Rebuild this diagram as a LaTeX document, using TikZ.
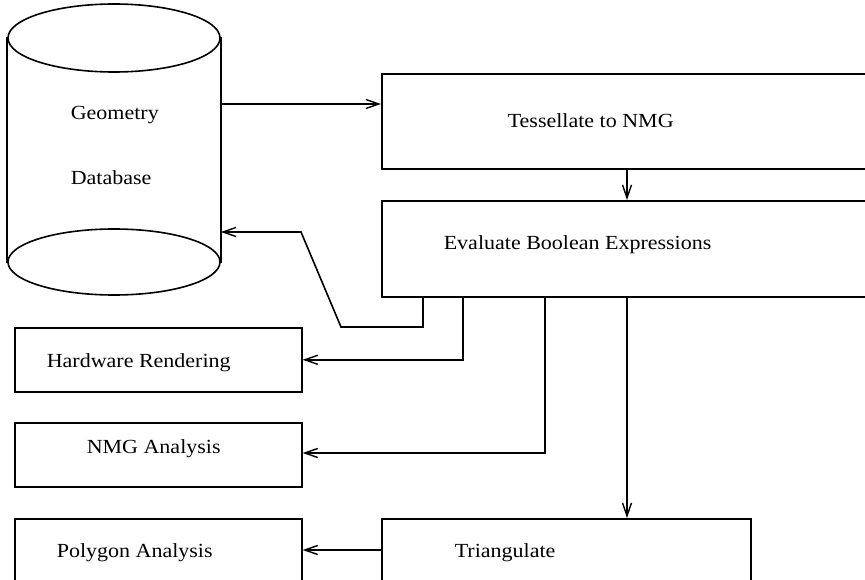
\documentclass[tikz,border=0pt]{standalone}
\usepackage{fontspec}
\setmainfont{Liberation Serif}[FakeStretch=1.1]
\usetikzlibrary{arrows.meta,positioning}

\begin{document}
\begin{tikzpicture}[x=1pt,y=-1pt,
  line width=1.6pt,
  box/.style={draw,rectangle,inner sep=0pt,minimum width=#1},
  lbl/.style={anchor=base west,inner sep=0pt,font=\fontsize{20}{24}\selectfont},
  flow/.style={-{Straight Barb[length=13pt,width=9pt,line width=1.4pt]},line width=1.6pt},
]
\useasboundingbox (0,0) rectangle (865,580);
\clip (0,0) rectangle (865,580);

% geometry database cylinder (two full ellipses joined by its sides)
\node[inner sep=0pt,minimum width=212pt,minimum height=224pt] (db) at (114,150) {};
\draw (114,38) ellipse [x radius=106, y radius=34];
\draw (114,262) ellipse [x radius=106, y radius=33];
\draw (db.north west) -- (db.south west);
\draw (db.north east) -- (db.south east);
\node[lbl] (dbA) at (70,120) {Geometry};
\node[lbl] (dbB) at (70,185) {Database};

% processing boxes (right-hand ones run past the page edge)
\node[box=519pt,minimum height=95pt,anchor=north west] (tess) at (381,73) {};
\node[box=519pt,minimum height=96pt,anchor=north west] (eval) at (381,200) {};
\node[box=287pt,minimum height=64pt,anchor=north west] (hw) at (14,327) {};
\node[box=287pt,minimum height=64pt,anchor=north west] (nmga) at (14,422) {};
\node[box=287pt,minimum height=82pt,anchor=north west] (poly) at (14,518) {};
\node[box=369pt,minimum height=82pt,anchor=north west] (tri) at (381,518) {};

\node[lbl] (tessT) at (507,128) {Tessellate to NMG};
\node[lbl] (evalT) at (443,250) {Evaluate Boolean Expressions};
\node[lbl] (hwT) at (46,367) {Hardware Rendering};
\node[lbl] (nmgaT) at (86,453) {NMG Analysis};
\node[lbl] (polyT) at (56,557) {Polygon Analysis};
\node[lbl] (triT) at (454,557) {Triangulate};

% bend points of the routed connectors
\coordinate (r1) at (423,327);
\coordinate (r2) at (341,327);
\coordinate (r3) at (301,232);

% connectors
\draw[flow] (db.east |- 0,104) -- (tess.west |- 0,104);
\draw[flow] (tess.south -| 627,0) -- (eval.north -| 627,0);
\draw[flow] (eval.south -| r1) -- (r1) -- (r2) -- (r3) -- (db.east |- r3);
\draw[flow] (eval.south -| 463,0) |- (hw.east);
\draw[flow] (eval.south -| 545,0) |- (nmga.east |- 0,453);
\draw[flow] (eval.south -| 627,0) -- (tri.north -| 627,0);
\draw[flow] (tri.west |- 0,550) -- (poly.east |- 0,550);
\end{tikzpicture}
\end{document}
